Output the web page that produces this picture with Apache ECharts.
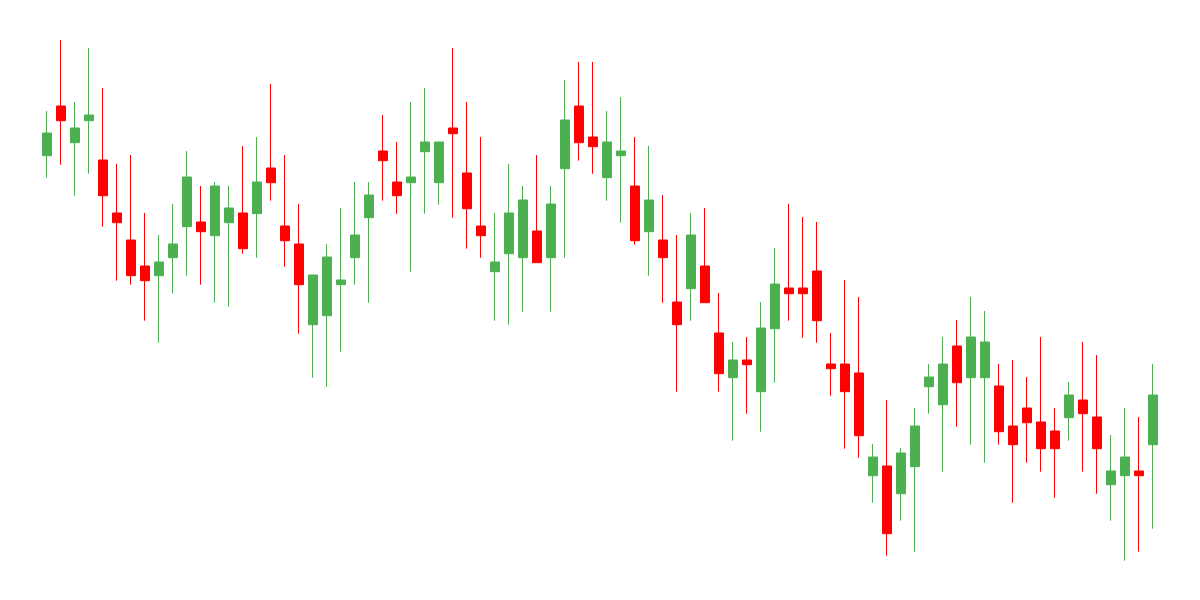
<!DOCTYPE html>
<html>
<head>
<meta charset="utf-8">
<script src="https://cdn.jsdelivr.net/npm/echarts@6/dist/echarts.min.js"></script>
<style>html,body{margin:0;padding:0;background:#fff}#c{width:1200px;height:600px}</style>
</head>
<body>
<div id="c"></div>
<script>
const opens  = [44.43,49.4,45.73,47.93,44.0,38.7,36.0,33.4,32.43,34.23,37.33,37.8,36.43,37.73,38.7,38.63,43.2,37.4,35.6,27.53,
                28.43,31.53,34.23,38.23,44.9,41.8,41.73,44.83,41.73,47.2,42.7,37.4,32.83,34.63,34.23,36.9,34.23,43.13,49.4,46.3,
                42.23,44.43,41.4,36.83,36.0,29.8,31.13,33.4,26.7,22.23,24.0,20.83,27.13,31.2,31.2,32.9,23.6,23.6,22.7,12.43,
                13.4,10.63,13.33,21.33,19.53,25.4,22.23,22.23,21.4,17.4,19.2,17.8,16.9,18.23,20.0,18.3,11.53,12.43,12.9,15.53];
const closes = [46.7,47.93,47.2,48.5,40.43,37.73,32.43,31.93,33.8,35.6,42.3,36.83,41.4,39.2,35.13,41.8,41.73,35.93,31.53,32.5,
                34.3,32.0,36.5,40.5,43.93,40.43,42.3,45.8,45.8,46.63,39.13,36.43,33.8,38.7,40.0,33.73,39.6,48.0,45.73,45.33,
                45.8,44.9,35.93,40.0,34.23,27.53,36.5,29.73,22.63,24.0,23.53,27.2,31.6,30.63,30.63,27.93,23.13,20.83,16.43,14.3,
                6.63,14.7,17.4,22.3,23.6,21.73,26.3,25.8,16.83,15.53,17.73,15.13,15.13,20.5,18.63,15.13,12.9,14.3,12.43,20.5];
const lows   = [42.23,43.53,40.43,42.63,37.33,31.93,31.53,27.93,25.73,30.63,32.43,31.53,29.73,29.33,34.63,34.23,39.93,33.33,26.63,22.23,
                21.33,24.83,31.53,29.73,39.93,38.63,32.83,38.63,39.53,38.23,35.13,34.23,27.93,27.53,28.83,33.73,28.83,34.23,43.93,42.63,
                39.93,37.73,35.53,32.43,29.73,20.83,27.93,29.73,20.83,15.93,18.63,16.83,21.73,27.93,26.23,25.73,20.43,15.13,14.23,9.73,
                4.43,7.93,4.83,18.63,12.83,17.33,15.53,13.73,15.53,9.73,13.73,12.83,10.23,15.93,12.83,10.63,7.93,3.93,4.83,7.13];
const highs  = [48.9,56.0,49.8,55.2,51.2,43.6,44.5,38.7,36.5,39.6,44.9,41.4,41.8,41.4,45.4,46.3,51.6,44.5,39.6,32.5,
                35.6,39.2,41.8,41.8,48.5,45.8,49.8,51.2,45.8,55.2,49.8,46.3,38.7,43.6,41.4,44.5,41.4,52.0,53.8,53.8,
                48.9,50.3,46.3,45.4,40.5,36.5,38.7,39.2,30.7,25.8,26.3,29.8,35.2,39.6,38.3,37.8,26.7,32.0,30.3,15.6,
                20.0,15.2,19.2,23.6,26.3,28.0,30.3,28.9,23.6,24.0,22.3,26.3,19.2,21.8,25.8,24.5,16.5,19.2,18.3,23.6];
const categories = opens.map((_, i) => 'D' + (i + 1));

const data = opens.map((o, i) => [o, closes[i], lows[i], highs[i]]);
const chart = echarts.init(document.getElementById('c'), null, {renderer: 'canvas'});
chart.setOption({
  animation: false,
  backgroundColor: '#ffffff',
  grid: {left: 40, right: 40, top: 0, bottom: 0},
  xAxis: {type: 'category', data: categories, show: false, boundaryGap: true},
  yAxis: {type: 'value', min: 0, max: 60, show: false, splitLine: {show: false}},
  series: [{
    type: 'candlestick',
    data: data,
    barWidth: 10,
    itemStyle: {
      color: '#4caf50', color0: '#ff0000',
      borderColor: '#4caf50', borderColor0: '#ff0000',
      borderWidth: 1
    }
  }]
});
</script>
</body>
</html>
